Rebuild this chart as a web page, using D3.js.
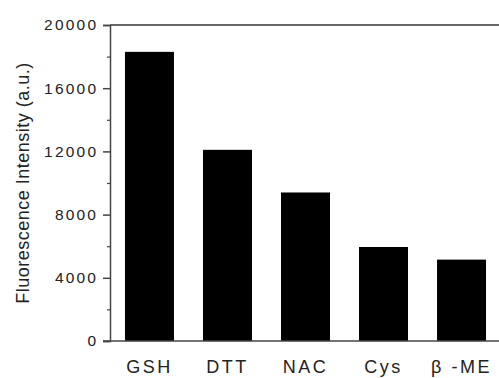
<!DOCTYPE html>
<html>
<head>
<meta charset="utf-8">
<script src="https://cdnjs.cloudflare.com/ajax/libs/d3/7.8.5/d3.min.js"></script>
<style>
  body { margin: 0; background: #fff; }
  svg { display: block; font-family: "Liberation Sans", Arial, sans-serif; }
</style>
</head>
<body>
<svg width="499" height="378"></svg>
<script>
const categories = ["GSH", "DTT", "NAC", "Cys", "\u03b2 -ME"];
const intensity = [18300, 12100, 9400, 5950, 5150];
const yTicks = [0, 4000, 8000, 12000, 16000, 20000];
const yMinor = [2000, 6000, 10000, 14000, 18000];

const svg = d3.select("svg");
const m = { left: 110, top: 25, bottom: 341 };

const x = d3.scaleBand()
  .domain(categories)
  .range([m.left, 501])
  .paddingInner(0.372)
  .paddingOuter(0.192);

const y = d3.scaleLinear()
  .domain([0, 20000])
  .range([m.bottom, m.top]);

// bars
svg.append("g").selectAll("rect")
  .data(intensity)
  .join("rect")
  .attr("x", (d, i) => x(categories[i]))
  .attr("y", d => y(d))
  .attr("width", x.bandwidth())
  .attr("height", d => y(0) - y(d))
  .attr("fill", "#000");

// top frame line
svg.append("line")
  .attr("x1", m.left).attr("x2", 499)
  .attr("y1", y(20000)).attr("y2", y(20000))
  .attr("stroke", "#666").attr("stroke-width", 2);

// left axis
const yAxis = svg.append("g")
  .attr("transform", `translate(${m.left},0)`)
  .call(d3.axisLeft(y).tickValues(yTicks).tickSize(7).tickPadding(7).tickFormat(d3.format("d")));
yAxis.select(".domain").attr("stroke", "#444").attr("stroke-width", 1.5);
yAxis.selectAll(".tick line").attr("stroke", "#444").attr("stroke-width", 1.5);
yAxis.selectAll(".tick text")
  .attr("fill", "#222")
  .style("font-size", "15.5px")
  .style("letter-spacing", "2.2px")
  .attr("dx", "2.2px");

svg.append("g")
  .attr("transform", `translate(${m.left},0)`)
  .call(d3.axisLeft(y).tickValues(yMinor).tickSize(3).tickFormat(""))
  .call(g => g.select(".domain").remove())
  .selectAll("line").attr("stroke", "#444").attr("stroke-width", 1.2);

// bottom axis line
svg.append("line")
  .attr("x1", m.left - 7).attr("x2", 499)
  .attr("y1", y(0)).attr("y2", y(0))
  .attr("stroke", "#444").attr("stroke-width", 1.5);

// category labels
svg.append("g").selectAll("text")
  .data(categories)
  .join("text")
  .attr("x", d => x(d) + x.bandwidth() / 2)
  .attr("y", 373)
  .attr("text-anchor", "middle")
  .attr("fill", "#222")
  .style("font-size", "18px")
  .style("letter-spacing", "2.5px")
  .text(d => d);

// y title
svg.append("text")
  .attr("transform", "translate(29,183) rotate(-90)")
  .attr("text-anchor", "middle")
  .attr("fill", "#222")
  .style("font-size", "18px")
  .style("letter-spacing", "0.5px")
  .text("Fluorescence Intensity (a.u.)");
</script>
</body>
</html>
